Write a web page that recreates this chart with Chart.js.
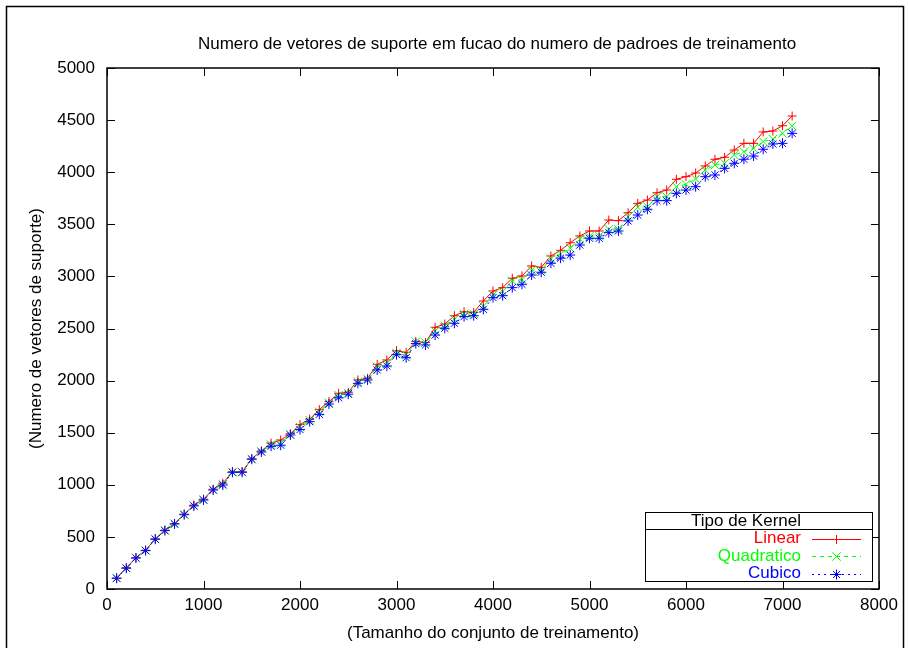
<!DOCTYPE html>
<html>
<head>
<meta charset="utf-8">
<title>Numero de vetores de suporte</title>
<script src="https://cdn.jsdelivr.net/npm/chart.js@4.4.1/dist/chart.umd.min.js"></script>
<style>
  html, body { margin: 0; padding: 0; background: #fff; }
  #wrap { width: 908px; height: 648px; }
</style>
</head>
<body>
<div id="wrap"><canvas id="grafico" width="908" height="648"></canvas></div>
<script>
var tamanhos = [100, 200, 300, 400, 500, 600, 700, 800, 900, 1000,
	1100, 1200, 1300, 1400, 1500, 1600, 1700, 1800, 1900, 2000,
	2100, 2200, 2300, 2400, 2500, 2600, 2700, 2800, 2900, 3000,
	3100, 3200, 3300, 3400, 3500, 3600, 3700, 3800, 3900, 4000,
	4100, 4200, 4300, 4400, 4500, 4600, 4700, 4800, 4900, 5000,
	5100, 5200, 5300, 5400, 5500, 5600, 5700, 5800, 5900, 6000,
	6100, 6200, 6300, 6400, 6500, 6600, 6700, 6800, 6900, 7000,
	7100];

var linear = [105, 205, 300, 372, 482, 565, 628, 718, 805, 862,
	958, 1015, 1125, 1125, 1250, 1325, 1400, 1430, 1490, 1578,
	1630, 1722, 1798, 1878, 1888, 2006, 2022, 2156, 2198, 2287,
	2271, 2375, 2365, 2511, 2543, 2623, 2661, 2655, 2764, 2860,
	2892, 2982, 3004, 3100, 3087, 3196, 3250, 3323, 3388, 3436,
	3436, 3541, 3535, 3611, 3701, 3733, 3803, 3829, 3932, 3957,
	3992, 4060, 4124, 4143, 4213, 4277, 4277, 4386, 4395, 4446,
	4539];

var quadratico = [104, 201, 298, 370, 480, 562, 626, 715, 800, 858,
	953, 1005, 1122, 1122, 1247, 1320, 1385, 1400, 1484, 1555,
	1620, 1700, 1785, 1860, 1880, 1990, 2015, 2130, 2165, 2265,
	2245, 2373, 2365, 2475, 2525, 2590, 2640, 2640, 2715, 2820,
	2855, 2957, 2970, 3060, 3060, 3170, 3215, 3270, 3356, 3385,
	3388, 3452, 3452, 3573, 3663, 3669, 3765, 3765, 3861, 3884,
	3935, 4021, 4069, 4085, 4165, 4197, 4229, 4293, 4318, 4373,
	4443];

var cubico = [103, 199, 297, 368, 477, 560, 624, 713, 797, 854,
	950, 998, 1120, 1120, 1245, 1315, 1370, 1380, 1478, 1530,
	1606, 1676, 1775, 1835, 1870, 1974, 2006, 2102, 2140, 2249,
	2220, 2355, 2342, 2437, 2502, 2550, 2614, 2623, 2684, 2796,
	2815, 2892, 2924, 3013, 3040, 3126, 3175, 3205, 3301, 3366,
	3366, 3420, 3436, 3532, 3589, 3644, 3727, 3727, 3797, 3829,
	3861, 3957, 3973, 4037, 4085, 4124, 4155, 4220, 4271, 4277,
	4373];

var titulo = 'Numero de vetores de suporte em fucao do numero de padroes de treinamento';
var tituloX = '(Tamanho do conjunto de treinamento)';
var tituloY = '(Numero de vetores de suporte)';
var tituloLegenda = 'Tipo de Kernel';

function pontos(serie) {
	return tamanhos.map(function(x, i) { return { x: x, y: serie[i] }; });
}

var fonte = 'Liberation Sans, Arial, Helvetica, sans-serif';
Chart.defaults.font.family = fonte;
Chart.defaults.font.size = 17;
Chart.defaults.color = '#000';

// moldura, titulo, tiques para dentro e legenda no estilo gnuplot
var moldura = {
	id: 'moldura',
	beforeDraw: function(chart) {
		var ctx = chart.ctx, a = chart.chartArea;
		ctx.save();
		ctx.fillStyle = '#fff';
		ctx.fillRect(0, 0, chart.width, chart.height);
		ctx.strokeStyle = '#000';
		ctx.lineWidth = 1.5;
		ctx.strokeRect(6.5, 6.5, 897, 700);
		ctx.font = '17px ' + fonte;
		ctx.fillStyle = '#000';
		ctx.textAlign = 'center';
		ctx.textBaseline = 'middle';
		ctx.fillText(titulo, (a.left + a.right) / 2 + 4, 44);
		ctx.restore();
	},
	beforeDatasetsDraw: function(chart) {
		var ctx = chart.ctx, a = chart.chartArea;
		var sx = chart.scales.x, sy = chart.scales.y;
		ctx.save();
		ctx.strokeStyle = '#000';
		ctx.lineWidth = 1;
		ctx.beginPath();
		sx.ticks.forEach(function(t) {
			var p = Math.round(sx.getPixelForValue(t.value)) + 0.5;
			ctx.moveTo(p, a.bottom); ctx.lineTo(p, a.bottom - 8);
			ctx.moveTo(p, a.top); ctx.lineTo(p, a.top + 8);
		});
		sy.ticks.forEach(function(t) {
			var p = Math.round(sy.getPixelForValue(t.value)) + 0.5;
			ctx.moveTo(a.left, p); ctx.lineTo(a.left + 8, p);
			ctx.moveTo(a.right, p); ctx.lineTo(a.right - 8, p);
		});
		ctx.stroke();
		ctx.lineWidth = 1.5;
		ctx.strokeRect(Math.round(a.left), Math.round(a.top), Math.round(a.right - a.left), Math.round(a.bottom - a.top));
		ctx.restore();
	},
	afterDatasetsDraw: function(chart) {
		var ctx = chart.ctx;
		var L = 645, R = 872, T = 512, B = 581, sep = 529;
		ctx.save();
		ctx.fillStyle = '#fff';
		ctx.fillRect(L, T, R - L, B - T);
		ctx.strokeStyle = '#000';
		ctx.lineWidth = 1;
		ctx.strokeRect(L + 0.5, T + 0.5, R - L, B - T);
		ctx.beginPath();
		ctx.moveTo(L, sep + 0.5); ctx.lineTo(R, sep + 0.5);
		ctx.stroke();
		ctx.font = '17px ' + fonte;
		ctx.textAlign = 'right';
		ctx.textBaseline = 'middle';
		ctx.fillStyle = '#000';
		ctx.fillText(tituloLegenda, 801, 521);
		var linhas = [538.5, 556, 573.5];
		chart.data.datasets.forEach(function(ds, i) {
			var y = linhas[i];
			ctx.fillStyle = ds.borderColor;
			ctx.fillText(ds.label, 801, y);
			ctx.save();
			ctx.strokeStyle = ds.borderColor;
			ctx.lineWidth = 1;
			ctx.setLineDash(ds.borderDash || []);
			ctx.beginPath();
			ctx.moveTo(812, Math.round(y) + 0.5); ctx.lineTo(861, Math.round(y) + 0.5);
			ctx.stroke();
			ctx.restore();
			ctx.strokeStyle = ds.borderColor;
			ctx.fillStyle = ds.borderColor;
			ctx.lineWidth = 1;
			Chart.helpers.drawPoint(ctx, { pointStyle: ds.pointStyle, radius: ds.pointRadius, rotation: 0, borderWidth: 1 }, 836.5, Math.round(y) + 0.5);
		});
		ctx.restore();
	}
};

function semSeparador(v) { return String(v); }

var ctx = document.getElementById('grafico').getContext('2d');
window.grafico = new Chart(ctx, {
	type: 'line',
	data: {
		datasets: [
			{ label: 'Linear', data: pontos(linear), borderColor: '#ff0000', backgroundColor: '#ff0000', borderWidth: 1, pointStyle: 'cross', pointRadius: 4.5, pointBorderWidth: 1, pointBorderColor: '#ff0000', fill: false, tension: 0, order: 3 },
			{ label: 'Quadratico', data: pontos(quadratico), borderColor: '#00ff00', backgroundColor: '#00ff00', borderWidth: 1, borderDash: [4, 4], pointStyle: 'crossRot', pointRadius: 6, pointBorderWidth: 1, pointBorderColor: '#00ff00', fill: false, tension: 0, order: 2 },
			{ label: 'Cubico', data: pontos(cubico), borderColor: '#0000ff', backgroundColor: '#0000ff', borderWidth: 1, borderDash: [2, 4], pointStyle: 'star', pointRadius: 5, pointBorderWidth: 1, pointBorderColor: '#0000ff', fill: false, tension: 0, order: 1 }
		]
	},
	options: {
		responsive: false,
		animation: false,
		layout: { padding: { left: 0, top: 68, right: 29, bottom: 0 } },
		plugins: {
			legend: { display: false },
			tooltip: { enabled: false },
			title: { display: false }
		},
		scales: {
			x: {
				type: 'linear', min: 0, max: 8000,
				ticks: { stepSize: 1000, padding: 6, maxRotation: 0, color: '#000', font: { size: 17 }, callback: semSeparador },
				grid: { display: false, drawTicks: false },
				border: { display: false },
				title: { display: true, text: tituloX, color: '#000', font: { size: 17 }, padding: { top: 0, bottom: 4.8 } },
				afterFit: function(s) { s.height = 59; }
			},
			y: {
				type: 'linear', min: 0, max: 5000,
				ticks: { stepSize: 500, padding: 12, color: '#000', font: { size: 17 }, callback: semSeparador },
				grid: { display: false, drawTicks: false },
				border: { display: false },
				title: { display: true, text: tituloY, color: '#000', font: { size: 17 }, padding: { top: 25.8, bottom: 0 } },
				afterFit: function(s) { s.width = 107; }
			}
		}
	},
	plugins: [moldura]
});
</script>
</body>
</html>
